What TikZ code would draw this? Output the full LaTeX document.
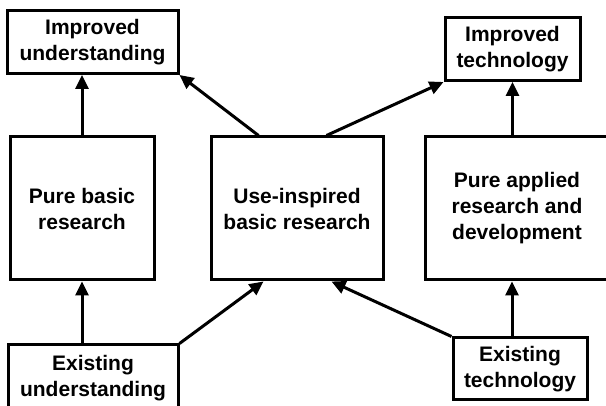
\documentclass[tikz,border=0pt]{standalone}
\usepackage{fontspec}
\setmainfont{Liberation Sans}
\usetikzlibrary{arrows.meta,calc}
\begin{document}
\begin{tikzpicture}[x=1pt,y=-1pt,
  box/.style={draw,line width=3pt,rectangle,align=center,inner sep=0pt,
    font=\fontsize{21}{26}\selectfont\bfseries},
  arr/.style={line width=3pt,-{Triangle[length=14pt,width=13pt]}}]
\clip (0,0) rectangle (606,406);
\fill[white] (0,0) rectangle (606,406);
\node[box,minimum width=171pt,minimum height=63pt] (iu) at (92.5,42) {Improved\\understanding};
\node[box,minimum width=135pt,minimum height=63pt] (it) at (512.5,49) {Improved\\technology};
\node[box,minimum width=144pt,minimum height=143pt] (pb) at (82,208.5) {Pure basic\\research};
\node[box,minimum width=172pt,minimum height=143pt] (ui) at (297,208.5) {Use-inspired\\basic research};
\node[box,minimum width=184pt,minimum height=143pt] (pa) at (517,208.5) {Pure applied\\research and\\development};
\node[box,minimum width=170pt,minimum height=67pt] (eu) at (93,378.5) {Existing\\understanding};
\node[box,minimum width=134pt,minimum height=62pt] (et) at (520,369) {Existing\\technology};
\coordinate (etx) at ([xshift=-8pt]et.north);
\coordinate (ui1) at ($(ui.north west)+(49,0)$);
\coordinate (ui2) at ($(ui.north west)+(117,0)$);
\coordinate (ui3) at ($(ui.south west)+(54,0)$);
\coordinate (ui4) at ($(ui.south west)+(122,0)$);
\draw[arr] (pb.north) -- (pb.north |- iu.south);
\draw[arr] (ui1) -- (iu.south east);
\draw[arr] (ui2) -- (it.south west);
\draw[arr] (it.south |- pa.north) -- (it.south);
\draw[arr] (pb.south |- eu.north) -- (pb.south);
\draw[arr] (eu.north east) -- (ui3);
\draw[arr] (et.north west) -- (ui4);
\draw[arr] (etx) -- (etx |- pa.south);
\end{tikzpicture}
\end{document}
